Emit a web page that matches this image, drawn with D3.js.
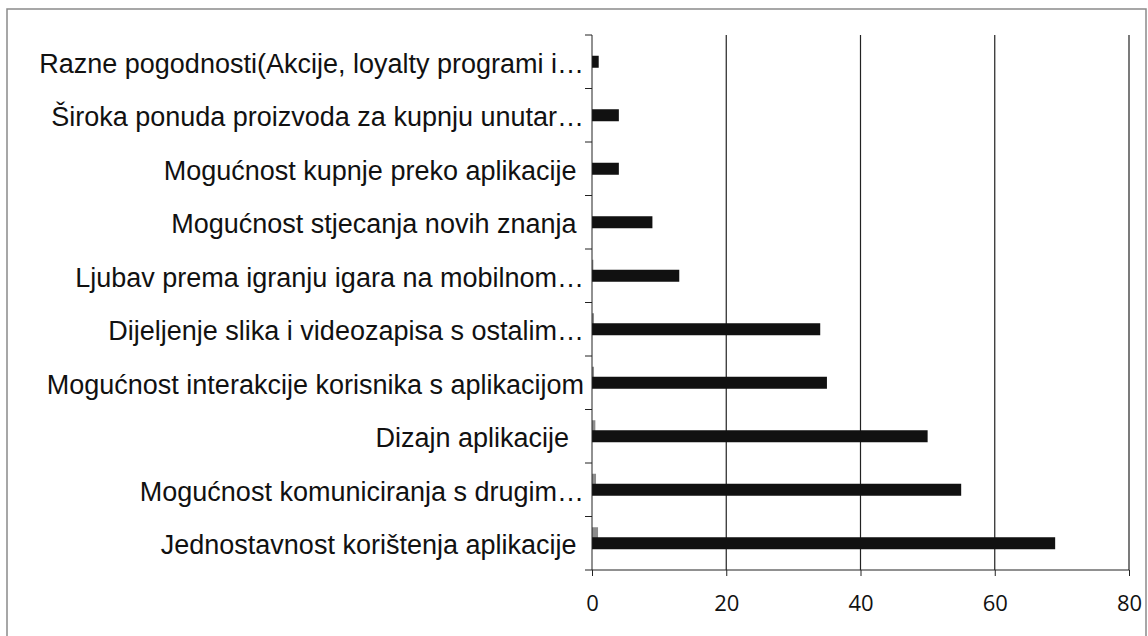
<!DOCTYPE html>
<html><head><meta charset="utf-8">
<script src="https://cdn.jsdelivr.net/npm/d3@7"></script>
<style>html,body{margin:0;padding:0;background:#fff;}svg{display:block;}</style>
</head><body>
<svg id="c" width="1148" height="636"></svg>
<script>
const categories = [
  "Razne pogodnosti(Akcije, loyalty programi i…",
  "Široka ponuda proizvoda za kupnju unutar…",
  "Mogućnost kupnje preko aplikacije\u00A0",
  "Mogućnost stjecanja novih znanja\u00A0",
  "Ljubav prema igranju igara na mobilnom…",
  "Dijeljenje slika i videozapisa s ostalim…",
  "Mogućnost interakcije korisnika s aplikacijom",
  "Dizajn aplikacije\u00A0\u00A0",
  "Mogućnost komuniciranja s drugim…",
  "Jednostavnost korištenja aplikacije\u00A0"
];
const mainValues = [1, 4, 4, 9, 13, 34, 35, 50, 55, 69];
const minorValues = [0, 0, 0, 0, 0.2, 0.3, 0.3, 0.5, 0.6, 0.9];
const xTicks = [0, 20, 40, 60, 80];

const svg = d3.select("#c");
const pL = 592, pR = 1129, pT = 35, pB = 570;

svg.append("rect").attr("x", 7).attr("y", 9).attr("width", 1139).attr("height", 640)
  .attr("fill", "none").attr("stroke", "#8a8a8a").attr("stroke-width", 1.5);

const x = d3.scaleLinear().domain([0, 80]).range([pL, pR]);
const y = d3.scaleBand().domain(categories).range([pT, pB]);

// gridlines
svg.append("g").selectAll("line").data(xTicks.filter(d => d > 0)).join("line")
  .attr("x1", d => x(d)).attr("x2", d => x(d)).attr("y1", pT).attr("y2", pB)
  .attr("stroke", "#222").attr("stroke-width", 1.2);

// bars
const bw = 12;
svg.append("g").selectAll("rect").data(categories).join("rect")
  .attr("x", x(0)).attr("y", d => y(d) + y.bandwidth() / 2 - 16)
  .attr("width", (d, i) => x(minorValues[i]) - x(0)).attr("height", 11)
  .attr("fill", "#8c8c8c");
svg.append("g").selectAll("rect").data(categories).join("rect")
  .attr("x", x(0)).attr("y", d => y(d) + y.bandwidth() / 2 - 6)
  .attr("width", (d, i) => x(mainValues[i]) - x(0)).attr("height", bw)
  .attr("fill", "#111");

// x axis
const xAxis = svg.append("g").attr("transform", `translate(0,${pB})`)
  .call(d3.axisBottom(x).tickValues(xTicks).tickSize(6).tickPadding(19));
xAxis.select(".domain").attr("stroke", "#222").attr("d", `M${pL},0H${pR}`);
xAxis.selectAll(".tick line").attr("stroke", "#222");
xAxis.selectAll("text").attr("font-family", "'Open Sans', 'Liberation Sans', sans-serif")
  .attr("font-size", 22).attr("fill", "#111");

// y axis
const yAxis = svg.append("g").attr("transform", `translate(${pL},0)`)
  .call(d3.axisLeft(y).tickSize(0).tickPadding(8));
yAxis.select(".domain").attr("stroke", "#222").attr("d", `M0,${pT}V${pB}`);
yAxis.selectAll(".tick text").attr("font-family", "'Liberation Sans', Arial, sans-serif")
  .attr("font-size", 27).attr("fill", "#111")
  .attr("dy", "0.4em");
// tick marks at band boundaries
const bounds = categories.map(c => y(c)).concat([pB]);
svg.append("g").selectAll("line").data(bounds).join("line")
  .attr("x1", pL - 7).attr("x2", pL).attr("y1", d => d).attr("y2", d => d)
  .attr("stroke", "#222");
</script>
</body></html>
